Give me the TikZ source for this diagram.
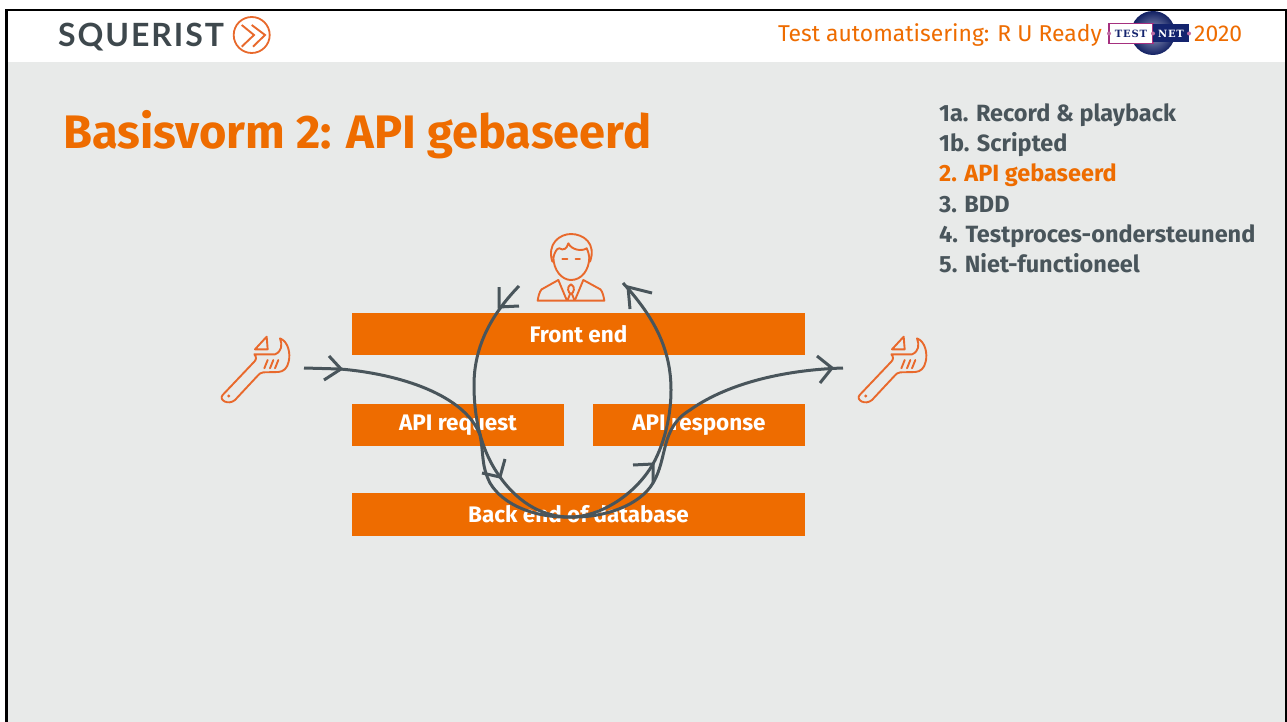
\documentclass[tikz,border=0pt]{standalone}
\usepackage{fontspec}
\setmainfont{Fira Sans}
\newfontfamily\logofont[LetterSpace=6]{Lato}
\newfontfamily\netfont[LetterSpace=8]{DejaVu Serif}
\definecolor{slide}{HTML}{E8EAE9}
\definecolor{squerist}{HTML}{EE6C00}
\definecolor{icon}{HTML}{E8692C}
\definecolor{slate}{HTML}{49555B}
\definecolor{navy}{HTML}{14246E}
\definecolor{magenta}{HTML}{A5307F}
\tikzset{
    bar/.style={fill=squerist,text=white,font=\fontsize{22.5}{24}\selectfont\bfseries,anchor=center,inner sep=0pt},
    flow/.style={draw=slate,line width=3pt},
    iconline/.style={draw=icon,line width=1.9pt,line join=round,line cap=round},
    listitem/.style={anchor=base west,inner sep=0pt,font=\fontsize{23.5}{26}\selectfont\bfseries,text=slate}
}
\newcommand{\wrenchicon}{
    \draw[iconline] (68,225) -- (160,128) .. controls (170,120) and (170,110) .. (163,103) -- (225,103) .. controls (245,95) and (248,75) .. (240,55) .. controls (265,65) and (272,100) .. (266,125) .. controls (262,145) and (250,155) .. (235,156) -- (190,157) .. controls (182,158) and (178,162) .. (175,165) -- (105,240) .. controls (85,257) and (55,240) .. (68,225) -- cycle;
    \draw[iconline] (165,88) -- (200,50) -- (203,88) -- cycle;
    \draw[iconline] (193,145) -- (203,120);
    \draw[iconline] (210,145) -- (220,120);
    \draw[iconline] (225,145) -- (235,120);
    \fill[icon] (86,228) circle (5);
}
\begin{document}
\begin{tikzpicture}[x=1pt,y=-1pt]
    \useasboundingbox (0,0) rectangle (1287,722);
    \fill[white] (0,0) rectangle (1287,722);
    \fill[slide] (6,62) rectangle (1286,722);
    \draw[black,line width=2.4pt] (6.5,722) -- (6.5,10) -- (1286,10) -- (1286,722);

    % header
    \node[anchor=base west,inner sep=0pt,text=slate!85!black,font=\logofont\fontsize{32}{34}\selectfont\bfseries] (logotext) at (58,47) {SQUERIST};
    \node[draw=icon,line width=1.8pt,circle,minimum size=36pt,inner sep=0pt] (logoring) at (251.7,35) {};
    \draw[icon,line width=1.9pt] (241.7,25) -- (254,35) -- (241.7,46.7);
    \draw[icon,line width=1.9pt] (251.7,25) -- (265,35) -- (253,46.7);
    \node[anchor=base east,inner sep=0pt,text=squerist,font=\fontsize{22.9}{26}\selectfont] (event) at (1102,42) {Test automatisering: R U Ready};
    \node[anchor=base west,inner sep=0pt,text=squerist,font=\fontsize{22.9}{26}\selectfont] (year) at (1194,42) {2020};

    % testnet logo
    \shade[inner color=navy!45!white,outer color=navy!90!black] (1153,33) circle (22);
    \node[draw=magenta,line width=1.6pt,fill=white,minimum width=44pt,minimum height=20pt,inner sep=0pt,text=navy,font=\netfont\fontsize{10}{10}\selectfont\bfseries] (testbox) at (1131,33.5) {TEST};
    \node[fill=navy,minimum width=36pt,minimum height=18pt,inner sep=0pt,text=white,font=\netfont\fontsize{10}{10}\selectfont\bfseries] (netbox) at (1171,33.5) {NET};
    \fill[magenta!70!white] (1109,33.5) circle (2) (1153,33.5) circle (2) (1189,33.5) circle (2);

    % title and list
    \node[anchor=base west,inner sep=0pt,text=squerist,font=\fontsize{47}{50}\selectfont\bfseries] (title) at (63,149) {Basisvorm 2: API gebaseerd};
    \node[listitem] (item1a) at (939,122) {1a. Record \& playback};
    \node[listitem] (item1b) at (939,152) {1b. Scripted};
    \node[listitem,text=squerist] (item2) at (939,182) {2. API gebaseerd};
    \node[listitem] (item3) at (939,212) {3. BDD};
    \node[listitem] (item4) at (939,242) {4. Testproces-ondersteunend};
    \node[listitem] (item5) at (939,272) {5. Niet-functioneel};

    % bars
    \node[bar,minimum width=453pt,minimum height=42pt] (frontend) at (578.5,334) {\raisebox{-1pt}{Front end}};
    \node[bar,minimum width=212pt,minimum height=42pt] (request) at (458,425) {\raisebox{-1pt}{API request}};
    \node[bar,minimum width=212pt,minimum height=42pt] (response) at (699,425) {\raisebox{-1pt}{API response}};
    \node[bar,minimum width=453pt,minimum height=43pt] (backend) at (578.5,514.5) {\raisebox{-1pt}{Back end of database}};

    % person
    \begin{scope}[shift={(440,220)},scale=1/3]
        \draw[iconline] (337,125) .. controls (320,70) and (360,42) .. (393,42) .. controls (430,42) and (470,70) .. (450,125);
        \draw[iconline] (340,110) .. controls (340,150) and (365,180) .. (393,180) .. controls (425,180) and (448,150) .. (448,110);
        \draw[iconline] (340,112) .. controls (345,95) and (350,85) .. (358,85) .. controls (370,92) and (380,88) .. (385,70) .. controls (395,90) and (425,95) .. (440,85) .. controls (445,95) and (447,105) .. (448,112);
        \draw[iconline] (367,118) -- (382,118);
        \draw[iconline] (407,118) -- (420,118);
        \draw[iconline] (355,180) -- (305,208) .. controls (298,215) and (295,230) .. (293,242) -- (493,242) .. controls (491,230) and (488,215) .. (481,208) -- (430,180);
        \draw[iconline] (355,180) -- (380,240);
        \draw[iconline] (430,180) -- (405,240);
        \draw[iconline] (393,193) .. controls (378,200) and (385,220) .. (393,222) .. controls (401,220) and (408,200) .. (393,193);
        \draw[iconline] (383,240) -- (390,222);
        \draw[iconline] (403,240) -- (396,222);
    \end{scope}

    % wrenches
    \begin{scope}[shift={(200,320)},scale=1/3]
        \wrenchicon
    \end{scope}
    \begin{scope}[shift={(837,320)},scale=1/3]
        \wrenchicon
    \end{scope}

    % curves
    \coordinate (toolin) at (304,368);
    \coordinate (toolout) at (843,368);
    \coordinate (userout) at (519,286);
    \coordinate (userin) at (623,283);
    \coordinate (bottom) at (570,517);
    \draw[flow] (toolin) -- (340,369) .. controls (400,374) and (465,395) .. (480,435) .. controls (484,455) and (481,465) .. (490,483) .. controls (503,505) and (535,518) .. (bottom) .. controls (605,518) and (640,505) .. (653,483) .. controls (668,458) and (660,428) .. (690,410) .. controls (725,385) and (780,370) .. (toolout);
    \draw[flow] (userout) .. controls (488,318) and (474,350) .. (474,385) .. controls (474,425) and (484,455) .. (500,477) .. controls (520,505) and (545,517) .. (bottom) .. controls (600,517) and (635,495) .. (653,464) .. controls (665,442) and (671,415) .. (671,390) .. controls (671,350) and (655,318) .. (userin);

    % arrow marks
    \draw[flow] (499,287) -- (499,307) -- (519,306);
    \draw[flow] (652,293) -- (628,287) -- (630,309);
    \draw[flow] (329,356) -- (341,369) -- (324,380);
    \draw[flow] (505,459) -- (500,477) -- (482,473);
    \draw[flow] (633,465) -- (653,464) -- (653,483);
    \draw[flow] (817,356) -- (832,368) -- (820,383);
\end{tikzpicture}
\end{document}
